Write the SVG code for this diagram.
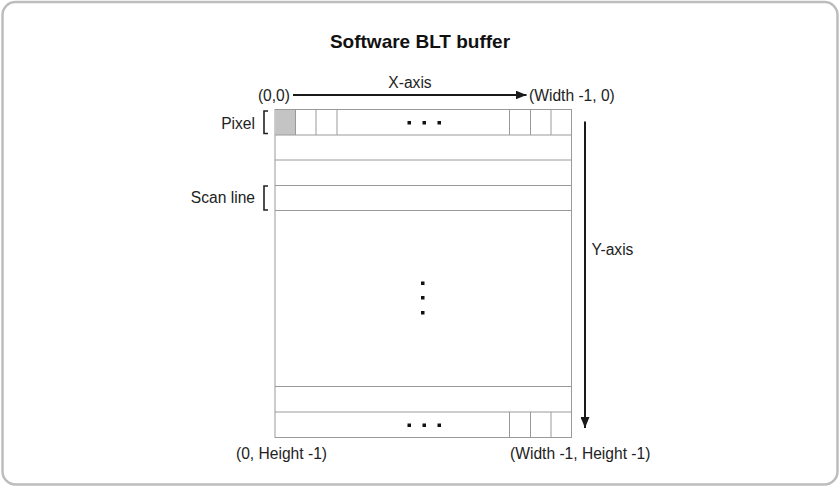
<svg xmlns="http://www.w3.org/2000/svg" width="840" height="487" viewBox="0 0 840 487">
<style>
.t{font-family:"Liberation Sans",Arial,sans-serif;font-size:15.6px;fill:#222}
.g{fill:none;stroke:#9a9a9a;stroke-width:1}
.ax{stroke:#1a1a1a;stroke-width:2;fill:none}
.br{stroke:#222;stroke-width:1.6;fill:none}
.d{fill:#111}
</style>
<defs>
<marker id="ah" viewBox="0 0 11 9" refX="11" refY="4.5" markerWidth="11" markerHeight="9" markerUnits="userSpaceOnUse" orient="auto">
<path d="M0,0 L11,4.5 L0,9 z" fill="#1a1a1a"/>
</marker>
</defs>
<rect x="2.5" y="2" width="835" height="482.5" rx="13" fill="#fff" stroke="#bdbdbd" stroke-width="2.5"/>
<text x="420" y="48" text-anchor="middle" style="font-family:'Liberation Sans',Arial,sans-serif;font-size:19px;font-weight:bold;fill:#111">Software BLT buffer</text>

<g id="buffer">
<rect x="275" y="109.5" width="296.5" height="328" class="g"/>
<rect x="275.5" y="110" width="20" height="25" fill="#c4c4c4"/>
<line x1="275" y1="135" x2="571.5" y2="135" class="g"/>
<line x1="275" y1="160" x2="571.5" y2="160" class="g"/>
<line x1="275" y1="185.5" x2="571.5" y2="185.5" class="g"/>
<line x1="275" y1="210.5" x2="571.5" y2="210.5" class="g"/>
<line x1="275" y1="386.5" x2="571.5" y2="386.5" class="g"/>
<line x1="275" y1="412" x2="571.5" y2="412" class="g"/>
<line x1="295.5" y1="109.5" x2="295.5" y2="135" class="g"/>
<line x1="316" y1="109.5" x2="316" y2="135" class="g"/>
<line x1="337" y1="109.5" x2="337" y2="135" class="g"/>
<line x1="509.5" y1="109.5" x2="509.5" y2="135" class="g"/>
<line x1="530.5" y1="109.5" x2="530.5" y2="135" class="g"/>
<line x1="551" y1="109.5" x2="551" y2="135" class="g"/>
<line x1="509.5" y1="412" x2="509.5" y2="437.5" class="g"/>
<line x1="530.5" y1="412" x2="530.5" y2="437.5" class="g"/>
<line x1="551" y1="412" x2="551" y2="437.5" class="g"/>
<rect x="407.5" y="121" width="3.5" height="3.5" class="d"/>
<rect x="422.5" y="121" width="3.5" height="3.5" class="d"/>
<rect x="437.5" y="121" width="3.5" height="3.5" class="d"/>
<rect x="407.5" y="423.5" width="3.5" height="3.5" class="d"/>
<rect x="422.5" y="423.5" width="3.5" height="3.5" class="d"/>
<rect x="437.5" y="423.5" width="3.5" height="3.5" class="d"/>
<rect x="421" y="281.5" width="3.5" height="3.5" class="d"/>
<rect x="421" y="296" width="3.5" height="3.5" class="d"/>
<rect x="421" y="311" width="3.5" height="3.5" class="d"/>
</g>

<g id="pixel-label">
<text x="255" y="128.5" text-anchor="end" class="t">Pixel</text>
<path d="M268,111 L264,111 L264,133.5 L268,133.5" class="br"/>
</g>
<g id="scanline-label">
<text x="255" y="203" text-anchor="end" class="t">Scan line</text>
<path d="M268,186 L264,186 L264,210 L268,210" class="br"/>
</g>

<g id="connectors">
<line x1="293" y1="95" x2="526.5" y2="95" class="ax" marker-end="url(#ah)"/>
<line x1="585" y1="121.5" x2="585" y2="428" class="ax" marker-end="url(#ah)"/>
</g>

<g id="labels">
<text x="290" y="100.5" text-anchor="end" class="t">(0,0)</text>
<text x="410" y="88" text-anchor="middle" class="t">X-axis</text>
<text x="529" y="100.5" class="t">(Width -1, 0)</text>
<text x="591.5" y="255" class="t">Y-axis</text>
<text x="236" y="459" class="t">(0, Height -1)</text>
<text x="510" y="459" class="t">(Width -1, Height -1)</text>
</g>
</svg>
